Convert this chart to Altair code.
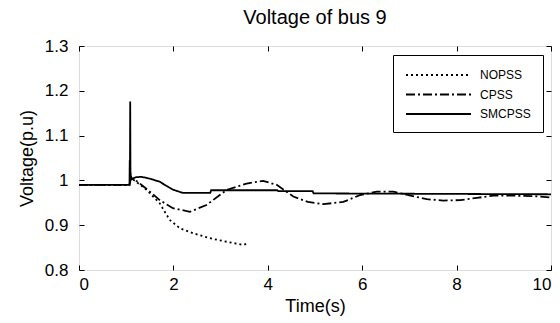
import altair as alt
import pandas as pd

# ---- data ----
smc_t = [0, 1.07, 1.075, 1.08, 1.085, 1.09, 1.10, 1.12, 1.2, 1.32, 1.5, 1.71, 1.85, 2.0, 2.2, 2.78, 2.8, 4.2, 4.22, 4.95, 4.97, 10]
smc_v = [0.99, 0.99, 1.045, 1.03, 1.176, 1.02, 1.01, 1.003, 1.007, 1.008, 1.004, 0.997, 0.988, 0.979, 0.972, 0.972, 0.978, 0.978, 0.976, 0.976, 0.971, 0.969]

cpss_t = [0, 1.07, 1.1, 1.2, 1.29, 1.5, 1.71, 1.99, 2.35, 2.7, 3.13, 3.55, 3.9, 4.19, 4.54, 4.85, 5.18, 5.6, 5.95, 6.31, 6.66, 7.02, 7.37, 7.72, 8.08, 8.43, 8.78, 9.2, 9.6, 10]
cpss_v = [0.99, 0.99, 1.005, 1.0, 0.993, 0.975, 0.956, 0.938, 0.930, 0.945, 0.979, 0.993, 0.999, 0.990, 0.964, 0.952, 0.947, 0.952, 0.967, 0.975, 0.975, 0.966, 0.958, 0.955, 0.956, 0.961, 0.966, 0.966, 0.965, 0.962]

nopss_t = [0, 1.07, 1.1, 1.2, 1.43, 1.71, 1.92, 2.14, 2.42, 2.77, 3.13, 3.48, 3.59]
nopss_v = [0.99, 0.99, 1.005, 0.998, 0.979, 0.949, 0.912, 0.893, 0.882, 0.871, 0.863, 0.856, 0.860]

series_names = ["NOPSS", "CPSS", "SMCPSS"]
x_ticks = [0, 2, 4, 6, 8, 10]
y_ticks = [0.8, 0.9, 1.0, 1.1, 1.2, 1.3]

rows = []
for name, ts, vs in [("NOPSS", nopss_t, nopss_v), ("CPSS", cpss_t, cpss_v), ("SMCPSS", smc_t, smc_v)]:
    for i, (t, v) in enumerate(zip(ts, vs)):
        rows.append({"t": t, "v": v, "series": name, "order": i})
df = pd.DataFrame(rows)

W, H = 472, 224
FONT = "Liberation Sans"
TICK = 5
TICKCOL = "black"
TICKW = 1

xscale = alt.Scale(domain=[0, 10], nice=False, zero=False)
yscale = alt.Scale(domain=[0.8, 1.3], nice=False, zero=False)

lines = alt.Chart(df).mark_line(color="black", strokeWidth=1.8, clip=True).encode(
    x=alt.X("t:Q", scale=xscale, title="Time(s)",
            axis=alt.Axis(orient="bottom", values=x_ticks, ticks=True, tickSize=TICK,
                          offset=-TICK, tickColor=TICKCOL, tickWidth=TICKW, tickOpacity=1,
                          domain=False, grid=False,
                          labelFontSize=17, labelFont=FONT, labelColor="black",
                          labelPadding=6, titleFontSize=18, titleFont=FONT,
                          titleFontWeight="normal", titleColor="black", titlePadding=5)),
    y=alt.Y("v:Q", scale=yscale, title="Voltage(p.u)",
            axis=alt.Axis(orient="left", values=y_ticks, ticks=True, tickSize=TICK,
                          offset=-TICK, tickColor=TICKCOL, tickWidth=TICKW, tickOpacity=1,
                          domain=False, grid=False,
                          labelFontSize=17, labelFont=FONT, labelColor="black",
                          labelPadding=11, titleFontSize=18, titleFont=FONT,
                          titleFontWeight="normal", titleColor="black", titlePadding=8,
                          labelExpr="datum.value == 1 ? '1' : format(datum.value, '.1f')")),
    strokeDash=alt.StrokeDash("series:N",
        scale=alt.Scale(domain=series_names, range=[[2, 3], [9, 3, 2, 3], [1, 0]]),
        legend=alt.Legend(orient="none", legendX=314, legendY=9, title=None,
                          strokeColor="black", fillColor="white", padding=12,
                          symbolType="M-1,0H8.29", symbolSize=196, symbolStrokeWidth=2,
                          symbolStrokeColor="black", symbolFillColor="transparent",
                          labelFontSize=12, labelFont=FONT,
                          labelColor="black", rowPadding=5.5, labelOffset=59, cornerRadius=0)),
    order="order:Q",
)

# invisible layer carrying the top and right inward tick axes
frame_axes = alt.Chart(df).mark_line(opacity=0).encode(
    x=alt.X("t:Q", scale=xscale,
            axis=alt.Axis(orient="top", values=x_ticks, ticks=True, tickSize=TICK,
                          offset=-TICK, tickColor=TICKCOL, tickWidth=TICKW, tickOpacity=1,
                          domain=False, grid=False, labels=False, title=None)),
    y=alt.Y("v:Q", scale=yscale,
            axis=alt.Axis(orient="right", values=y_ticks, ticks=True, tickSize=TICK,
                          offset=-TICK, tickColor=TICKCOL, tickWidth=TICKW, tickOpacity=1,
                          domain=False, grid=False, labels=False, title=None)),
    detail="series:N",
)

chart = alt.layer(lines, frame_axes).resolve_axis(
    x="independent", y="independent"
).properties(
    width=W, height=H,
    title=alt.Title("Voltage of bus 9", fontSize=20, font=FONT, fontWeight="normal",
                    color="black", offset=9, anchor="middle", frame="group"),
    autosize=alt.AutoSizeParams(type="none"),
    padding={"left": 79, "top": 46, "right": 9, "bottom": 53},
).configure_view(stroke="black", strokeWidth=1).configure(background="white")

chart.save("out.html", embed_options={"renderer": "svg", "actions": False})
